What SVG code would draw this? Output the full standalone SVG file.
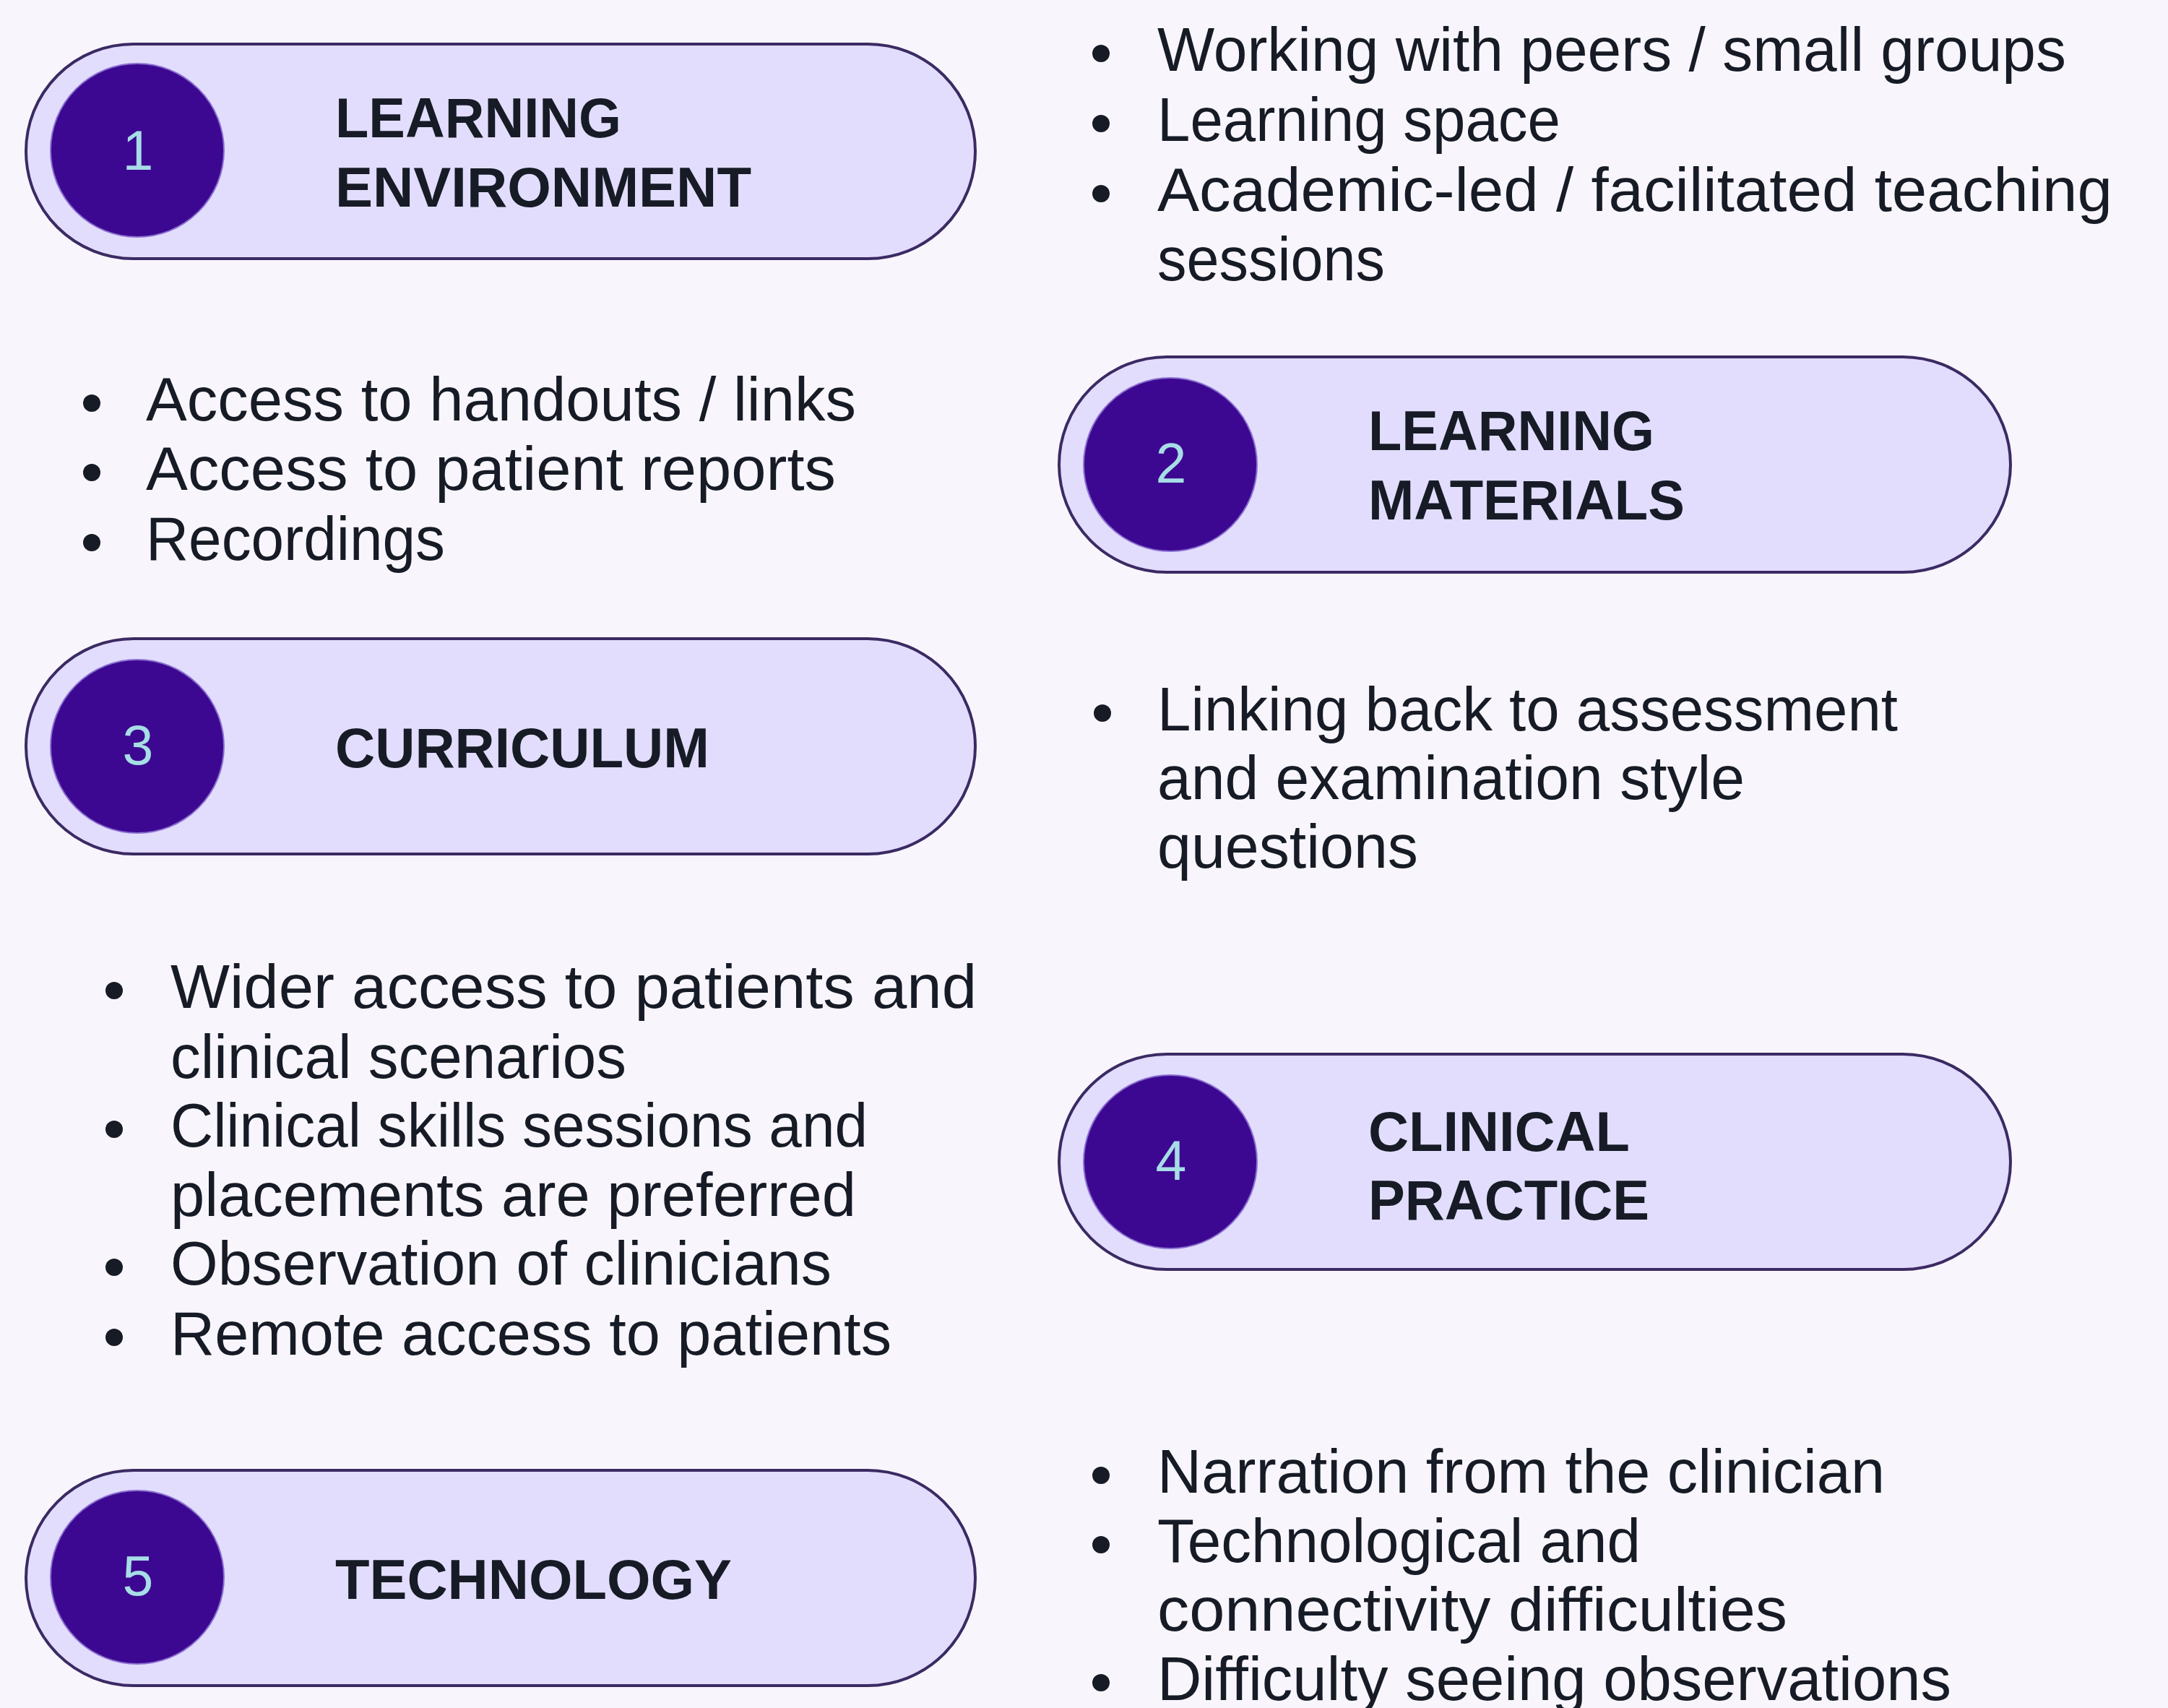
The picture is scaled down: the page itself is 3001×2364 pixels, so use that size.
<svg xmlns="http://www.w3.org/2000/svg" width="3001" height="2364" viewBox="0 0 3001 2364">
<style>
.pill{fill:#e2ddfd;stroke:#3b2a63;stroke-width:4}
.badge{fill:#3d0891;stroke:#8a6fd0;stroke-width:2}
.num{font-family:"Liberation Sans",Arial,sans-serif;font-size:77px;fill:#a6dde6;text-anchor:middle}
.title{font-family:"Liberation Sans",Arial,sans-serif;font-size:77px;font-weight:bold;fill:#161b26}
.body{font-family:"Liberation Sans",Arial,sans-serif;font-size:85px;fill:#161b26}
.dot{fill:#161b26}
</style>
<rect x="0" y="0" width="3001" height="2364" fill="#f8f6fc"/>

<g id="node1">
<rect class="pill" x="36" y="61" width="1314" height="297" rx="148.5" ry="148.5"/>
<circle class="badge" cx="190" cy="208" r="120"/>
<text class="num" x="191" y="235">1</text>
<text class="title" x="464" y="190" textLength="396" lengthAdjust="spacingAndGlyphs">LEARNING</text>
<text class="title" x="464" y="286" textLength="576" lengthAdjust="spacingAndGlyphs">ENVIRONMENT</text>
</g>

<g id="list1">
<circle class="dot" cx="1524" cy="74" r="12"/>
<circle class="dot" cx="1524" cy="171" r="12"/>
<circle class="dot" cx="1524" cy="268" r="12"/>
<text class="body" x="1602" y="98" textLength="1258" lengthAdjust="spacingAndGlyphs">Working with peers / small groups</text>
<text class="body" x="1602" y="195" textLength="558" lengthAdjust="spacingAndGlyphs">Learning space</text>
<text class="body" x="1602" y="292" textLength="1322" lengthAdjust="spacingAndGlyphs">Academic-led / facilitated teaching</text>
<text class="body" x="1602" y="388" textLength="315" lengthAdjust="spacingAndGlyphs">sessions</text>
</g>

<g id="list2">
<circle class="dot" cx="127" cy="558" r="12"/>
<circle class="dot" cx="127" cy="654" r="12"/>
<circle class="dot" cx="127" cy="751" r="12"/>
<text class="body" x="202" y="582" textLength="983" lengthAdjust="spacingAndGlyphs">Access to handouts / links</text>
<text class="body" x="202" y="678" textLength="955" lengthAdjust="spacingAndGlyphs">Access to patient reports</text>
<text class="body" x="202" y="775" textLength="414" lengthAdjust="spacingAndGlyphs">Recordings</text>
</g>

<g id="node2">
<rect class="pill" x="1466" y="494" width="1317" height="298" rx="149" ry="149"/>
<circle class="badge" cx="1620" cy="643" r="120"/>
<text class="num" x="1621" y="668">2</text>
<text class="title" x="1894" y="623" textLength="396" lengthAdjust="spacingAndGlyphs">LEARNING</text>
<text class="title" x="1894" y="719" textLength="438" lengthAdjust="spacingAndGlyphs">MATERIALS</text>
</g>

<g id="node3">
<rect class="pill" x="36" y="884" width="1314" height="298" rx="149" ry="149"/>
<circle class="badge" cx="190" cy="1033" r="120"/>
<text class="num" x="191" y="1058">3</text>
<text class="title" x="464" y="1062" textLength="518" lengthAdjust="spacingAndGlyphs">CURRICULUM</text>
</g>

<g id="list3">
<circle class="dot" cx="1526" cy="987" r="12"/>
<text class="body" x="1602" y="1011" textLength="1025" lengthAdjust="spacingAndGlyphs">Linking back to assessment</text>
<text class="body" x="1602" y="1106" textLength="813" lengthAdjust="spacingAndGlyphs">and examination style</text>
<text class="body" x="1602" y="1201" textLength="361" lengthAdjust="spacingAndGlyphs">questions</text>
</g>

<g id="list4">
<circle class="dot" cx="158" cy="1371" r="12"/>
<circle class="dot" cx="158" cy="1563" r="12"/>
<circle class="dot" cx="158" cy="1754" r="12"/>
<circle class="dot" cx="158" cy="1851" r="12"/>
<text class="body" x="236" y="1395" textLength="1116" lengthAdjust="spacingAndGlyphs">Wider access to patients and</text>
<text class="body" x="236" y="1492" textLength="631" lengthAdjust="spacingAndGlyphs">clinical scenarios</text>
<text class="body" x="236" y="1587" textLength="965" lengthAdjust="spacingAndGlyphs">Clinical skills sessions and</text>
<text class="body" x="236" y="1683" textLength="949" lengthAdjust="spacingAndGlyphs">placements are preferred</text>
<text class="body" x="236" y="1778" textLength="915" lengthAdjust="spacingAndGlyphs">Observation of clinicians</text>
<text class="body" x="236" y="1875" textLength="998" lengthAdjust="spacingAndGlyphs">Remote access to patients</text>
</g>

<g id="node4">
<rect class="pill" x="1466" y="1459" width="1317" height="298" rx="149" ry="149"/>
<circle class="badge" cx="1620" cy="1608" r="120"/>
<text class="num" x="1621" y="1633">4</text>
<text class="title" x="1894" y="1593" textLength="362" lengthAdjust="spacingAndGlyphs">CLINICAL</text>
<text class="title" x="1894" y="1688" textLength="389" lengthAdjust="spacingAndGlyphs">PRACTICE</text>
</g>

<g id="node5">
<rect class="pill" x="36" y="2035" width="1314" height="298" rx="149" ry="149"/>
<circle class="badge" cx="190" cy="2183" r="120"/>
<text class="num" x="191" y="2208">5</text>
<text class="title" x="464" y="2213" textLength="549" lengthAdjust="spacingAndGlyphs">TECHNOLOGY</text>
</g>

<g id="list5">
<circle class="dot" cx="1524" cy="2042" r="12"/>
<circle class="dot" cx="1524" cy="2138" r="12"/>
<circle class="dot" cx="1524" cy="2329" r="12"/>
<text class="body" x="1602" y="2066" textLength="1007" lengthAdjust="spacingAndGlyphs">Narration from the clinician</text>
<text class="body" x="1602" y="2162" textLength="669" lengthAdjust="spacingAndGlyphs">Technological and</text>
<text class="body" x="1602" y="2257" textLength="872" lengthAdjust="spacingAndGlyphs">connectivity difficulties</text>
<text class="body" x="1602" y="2353" textLength="1099" lengthAdjust="spacingAndGlyphs">Difficulty seeing observations</text>
</g>

<g id="connectors"></g>
</svg>
